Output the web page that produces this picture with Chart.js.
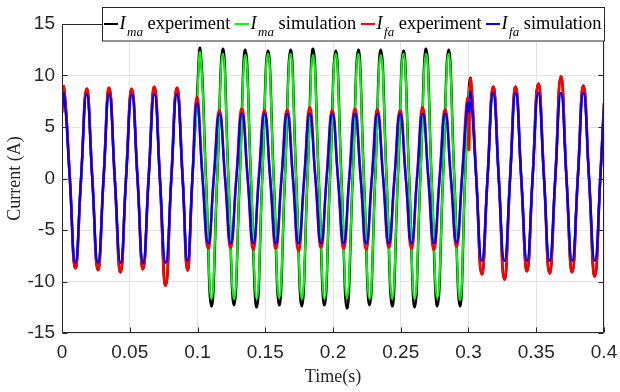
<!DOCTYPE html>
<html>
<head>
<meta charset="utf-8">
<script src="https://cdn.jsdelivr.net/npm/chart.js@4"></script>
<style>
  html, body { margin: 0; padding: 0; background: #fff; }
  #wrap { width: 620px; height: 392px; }
</style>
</head>
<body>
<div id="wrap"><canvas id="currentChart" width="620" height="392"></canvas></div>
<script>
/* I_fa samples: peaks, zero crossings and troughs of each 60 Hz cycle */
const tFa = [
  0, 0.0015, 0.0057, 0.0098, 0.014, 0.0182, 0.0223, 0.0265, 0.0307, 0.0348, 0.039, 0.0432, 0.0473,
  0.0515, 0.0557, 0.0598, 0.064, 0.0682, 0.0723, 0.0765, 0.0807, 0.0848, 0.089, 0.0926, 0.0962, 0.0996,
  0.1037, 0.1079, 0.112, 0.1162, 0.1204, 0.1245, 0.1287, 0.1328, 0.137, 0.1412, 0.1453, 0.1495,
  0.1537, 0.1579, 0.162, 0.1662, 0.1704, 0.1745, 0.1787, 0.1828, 0.187, 0.1912, 0.1953, 0.1995,
  0.2037, 0.2079, 0.212, 0.2162, 0.2204, 0.2245, 0.2287, 0.2328, 0.237, 0.2412, 0.2453, 0.2495,
  0.2537, 0.2579, 0.262, 0.2662, 0.2704, 0.2745, 0.2787, 0.2828, 0.287, 0.2912, 0.2952, 0.2992, 0.3004,
  0.3016, 0.3057, 0.3098, 0.314, 0.3182, 0.3223, 0.3265, 0.3307, 0.3348, 0.339, 0.3432, 0.3473,
  0.3515, 0.3557, 0.3598, 0.364, 0.3682, 0.3723, 0.3765, 0.3807, 0.3848, 0.389, 0.3932, 0.3973, 0.4
];
const faSim = [
  6.9, 8.2, 0, -8.2, 0, 8.2, 0, -8.2, 0, 8.2, 0, -8.2, 0,
  8.2, 0, -8.2, 0, 8.2, 0, -8.2, 0, 8.2, 0, -8.0, 0, 7.3,
  0, -6.3, 0, 6.3, 0, -6.3, 0, 6.3, 0, -6.3, 0, 6.3,
  0, -6.3, 0, 6.3, 0, -6.3, 0, 6.3, 0, -6.3, 0, 6.3,
  0, -6.3, 0, 6.3, 0, -6.3, 0, 6.3, 0, -6.3, 0, 6.3,
  0, -6.3, 0, 6.3, 0, -6.3, 0, 6.3, 0, -6.2, 0, 7.3, 6.5,
  8.3, 0, -8.0, 0, 8.3, 0, -8.0, 0, 8.3, 0, -8.0, 0,
  8.3, 0, -8.0, 0, 8.3, 0, -8.0, 0, 8.3, 0, -8.0, 0, 7.0
];
const faExp = [
  6.4, 8.8, 0.3, -8.7, -0.2, 8.7, 0.2, -8.9, 0.1, 8.8, -0.2, -9.1, 0.2,
  8.7, 0.1, -8.8, 0.3, 8.9, -0.2, -10.4, 0.1, 8.8, 0.2, -8.9, -0.1, 7.9,
  0.2, -6.8, 0.1, 6.6, -0.1, -6.7, 0.2, 6.8, 0.1, -6.9, 0.3, 6.6,
  -0.2, -6.8, 0.1, 6.7, 0.2, -7.0, -0.1, 6.9, 0.1, -6.7, 0.2, 6.6,
  -0.1, -6.8, 0.1, 6.8, 0.2, -6.9, 0.2, 6.7, 0.1, -6.7, -0.1, 6.6,
  0.2, -6.8, 0.1, 6.9, -0.1, -6.9, 0.2, 6.7, 0.1, -6.6, 0.2, 7.8, 2.8,
  9.7, 0.2, -9.3, -0.1, 8.9, 0.2, -9.8, 0.1, 8.9, -0.2, -9.0, 0.1,
  9.2, 0.2, -9.2, -0.1, 9.9, 0.1, -9.1, 0.2, 9.0, -0.1, -9.5, 0.2, 7.3
];

/* I_ma samples while the second branch conducts (0.1 s to 0.3 s) */
const tMa = [
  0.1021, 0.1062, 0.1103, 0.1145, 0.1187, 0.1228, 0.127, 0.1312,
  0.1353, 0.1395, 0.1437, 0.1478, 0.152, 0.1562, 0.1603, 0.1645,
  0.1687, 0.1728, 0.177, 0.1812, 0.1853, 0.1895, 0.1937, 0.1978,
  0.202, 0.2062, 0.2103, 0.2145, 0.2187, 0.2228, 0.227, 0.2312,
  0.2353, 0.2395, 0.2437, 0.2478, 0.252, 0.2562, 0.2603, 0.2645,
  0.2687, 0.2728, 0.277, 0.2812, 0.2853, 0.2895, 0.2937, 0.2975, 0.3004
];
const maSim = [
  12.1, 0, -11.7, 0, 12.1, 0, -11.7, 0,
  12.0, 0, -11.7, 0, 12.1, 0, -11.6, 0,
  12.1, 0, -11.7, 0, 12.0, 0, -11.7, 0,
  12.1, 0, -11.6, 0, 12.1, 0, -11.7, 0,
  12.0, 0, -11.7, 0, 12.1, 0, -11.7, 0,
  12.1, 0, -11.6, 0, 12.1, 0, -11.8, 0, 8.8
];
const maExp = [
  12.5, 0.2, -12.4, -0.1, 12.6, 0.1, -12.3, 0.2,
  12.5, -0.2, -12.5, 0.1, 12.4, 0.2, -12.3, -0.1,
  12.5, 0.1, -12.4, 0.2, 12.6, -0.1, -12.3, 0.1,
  12.4, 0.2, -12.6, -0.1, 12.5, 0.1, -12.3, 0.2,
  12.5, 0.1, -12.4, -0.2, 12.4, 0.1, -12.5, 0.2,
  12.6, -0.1, -12.4, 0.1, 12.5, 0.2, -12.4, 0.1, 9.0
];

const switchOn = 0.1, switchOff = 0.301;

const xTicks = [0, 0.05, 0.1, 0.15, 0.2, 0.25, 0.3, 0.35, 0.4];
const xTickLabels = ['0', '0.05', '0.1', '0.15', '0.2', '0.25', '0.3', '0.35', '0.4'];
const yTicks = [-15, -10, -5, 0, 5, 10, 15];
const yTickLabels = ['-15', '-10', '-5', '0', '5', '10', '15'];

const seriesNames = [
  { sub: 'ma', word: 'experiment', color: '#000000' },
  { sub: 'ma', word: 'simulation', color: '#00ff00' },
  { sub: 'fa', word: 'experiment', color: '#ff0000' },
  { sub: 'fa', word: 'simulation', color: '#0000ff' }
];

const AXIS = '#262626';
const SANS = '"Liberation Sans", Arial, sans-serif';
const SERIF = '"Liberation Serif", "Times New Roman", serif';

function pts(ts, vs) { return ts.map((t, i) => ({ x: t, y: vs[i] })); }

const faSimPts = pts(tFa, faSim);
const faExpPts = pts(tFa, faExp);
// outside the switching window both branches carry the same current
const before = p => p.x < switchOn;
const after = p => p.x > switchOff;
const maSimPts = [...faSimPts.filter(before), ...pts(tMa, maSim), ...faSimPts.filter(after)];
const maExpPts = [...faExpPts.filter(before), ...pts(tMa, maExp), ...faExpPts.filter(after)];

/* box, inward ticks and the legend strip */
const framePlugin = {
  id: 'frame',
  afterDatasetsDraw(chart) {
    const { ctx, chartArea: a, scales: { x, y } } = chart;
    const L = Math.round(a.left) + 0.5, R = Math.round(a.right) - 0.5;
    const T = Math.round(a.top) + 0.5, B = Math.round(a.bottom) - 0.5;
    ctx.save();
    ctx.strokeStyle = AXIS;
    ctx.lineWidth = 1;
    ctx.beginPath();
    ctx.rect(L, T, R - L, B - T);
    xTicks.forEach(v => {
      const px = Math.round(x.getPixelForValue(v)) + 0.5;
      ctx.moveTo(px, B); ctx.lineTo(px, B - 5);
      ctx.moveTo(px, T); ctx.lineTo(px, T + 5);
    });
    yTicks.forEach(v => {
      const py = Math.round(y.getPixelForValue(v)) + 0.5;
      ctx.moveTo(L, py); ctx.lineTo(L + 5, py);
      ctx.moveTo(R, py); ctx.lineTo(R - 5, py);
    });
    ctx.stroke();
    ctx.restore();
  },
  afterDraw(chart) {
    const ctx = chart.ctx;
    ctx.save();
    ctx.fillStyle = '#ffffff';
    ctx.fillRect(102.5, 7.5, 502, 33.5);
    ctx.strokeStyle = AXIS;
    ctx.lineWidth = 1;
    ctx.strokeRect(102.5, 7.5, 502, 33.5);

    const startX = [104, 235, 361, 486];
    seriesNames.forEach((s, i) => {
      let cx = startX[i];
      ctx.strokeStyle = s.color;
      ctx.lineWidth = 2;
      ctx.beginPath();
      ctx.moveTo(cx, 24); ctx.lineTo(cx + 14, 24);
      ctx.stroke();
      cx += 15.5;
      ctx.fillStyle = '#000000';
      ctx.textBaseline = 'alphabetic';
      ctx.font = 'italic 18.4px ' + SERIF;
      ctx.fillText('I', cx, 28.5);
      cx += ctx.measureText('I').width + 1.5;
      ctx.font = 'italic 13px ' + SERIF;
      ctx.fillText(s.sub, cx, 35.5);
      cx += ctx.measureText(s.sub).width + 4.6;
      ctx.font = '18.4px ' + SERIF;
      ctx.fillText(s.word, cx, 28.5);
    });
    ctx.restore();
  }
};

const lineStyle = { pointRadius: 0, tension: 0.5, fill: false };

new Chart(document.getElementById('currentChart'), {
  type: 'line',
  data: {
    datasets: [
      { ...lineStyle, label: 'I_ma experiment', data: maExpPts, borderColor: '#000000', borderWidth: 2.5, order: 4 },
      { ...lineStyle, label: 'I_ma simulation', data: maSimPts, borderColor: '#00ff00', borderWidth: 2, order: 3 },
      { ...lineStyle, label: 'I_fa experiment', data: faExpPts, borderColor: '#ff0000', borderWidth: 2.6, order: 2 },
      { ...lineStyle, label: 'I_fa simulation', data: faSimPts, borderColor: '#0000ff', borderWidth: 2.3, order: 1 }
    ]
  },
  options: {
    responsive: false,
    animation: false,
    devicePixelRatio: 1,
    layout: { padding: { top: 24, right: 16, left: 0, bottom: 0 } },
    plugins: { legend: { display: false }, tooltip: { enabled: false } },
    scales: {
      x: {
        type: 'linear',
        min: 0, max: 0.4,
        afterBuildTicks: s => { s.ticks = xTicks.map(v => ({ value: v })); },
        afterFit: s => { s.height = 59; },
        // invisible tick marks keep the labels off the axis without widening the side padding
        grid: { color: '#e4e4e4', drawTicks: true, tickLength: 8, tickColor: 'rgba(0,0,0,0)' },
        border: { display: false },
        ticks: {
          padding: 0, maxRotation: 0, autoSkip: false,
          color: AXIS, font: { family: SANS, size: 19 },
          callback: (v, i) => xTickLabels[i]
        },
        title: {
          display: true, text: 'Time(s)', color: AXIS,
          font: { family: SERIF, size: 18 },
          padding: { top: 0, bottom: 4 }
        }
      },
      y: {
        min: -15, max: 15,
        afterBuildTicks: s => { s.ticks = yTicks.map(v => ({ value: v })); },
        afterFit: s => { s.width = 62; },
        grid: { color: '#e4e4e4', drawTicks: false },
        border: { display: false },
        ticks: {
          padding: 7, autoSkip: false,
          color: AXIS, font: { family: SANS, size: 19 },
          callback: (v, i) => yTickLabels[i]
        },
        title: {
          display: true, text: 'Current (A)', color: AXIS,
          font: { family: SERIF, size: 18 },
          padding: { top: 4, bottom: 0 }
        }
      }
    }
  },
  plugins: [framePlugin]
});
</script>
</body>
</html>
